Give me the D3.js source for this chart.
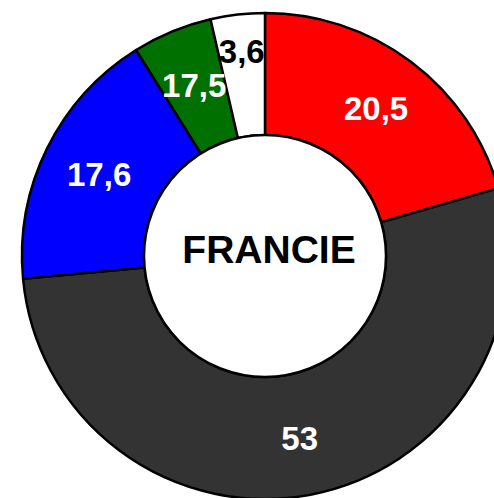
<!DOCTYPE html>
<html>
<head>
<meta charset="utf-8">
<script src="https://cdn.jsdelivr.net/npm/d3@7"></script>
<style>
  body { margin: 0; background: #fff; }
  svg { display: block; }
  text { font-family: "Liberation Sans", Arial, sans-serif; font-weight: bold; }
</style>
</head>
<body>
<svg id="chart" width="494" height="498"></svg>
<script>
// données (part de chaque secteur, sens horaire depuis le haut)
var categories = ["rouge", "gris", "bleu", "vert", "blanc"];
var valeurs = [20.5, 53, 17.6, 5.3, 3.6];
var etiquettes = ["20,5", "53", "17,6", "17,5", "3,6"];
var couleurs = ["#ff0000", "#333333", "#0000ff", "#007000", "#ffffff"];
var couleursTexte = ["#fff", "#fff", "#fff", "#fff", "#000"];
var titre = "FRANCIE";

var svg = d3.select("#chart"),
    cx = 265, cy = 256,
    rExt = 243, rInt = 121;

var g = svg.append("g").attr("transform", "translate(" + cx + "," + cy + ")");

var pie = d3.pie().sort(null).value(function(d){ return d; });
var arcs = pie(valeurs);

var arc = d3.arc().innerRadius(rInt).outerRadius(rExt);

// secteurs
g.selectAll("path.secteur")
    .data(arcs)
  .enter().append("path")
    .attr("class", "secteur")
    .attr("d", arc)
    .attr("fill", function(d, i){ return couleurs[i]; })
    .attr("stroke", "#000")
    .attr("stroke-width", 2.5)
    .attr("stroke-linejoin", "round");

// cercle central
g.append("circle")
    .attr("r", rInt)
    .attr("fill", "#fff")
    .attr("stroke", "#000")
    .attr("stroke-width", 2.5);

// étiquettes : rayon un peu plus grand pour le petit secteur blanc
function rayonEtiquette(i){ return i == 4 ? 206 : 185; }

g.selectAll("text.valeur")
    .data(arcs)
  .enter().append("text")
    .attr("class", "valeur")
    .attr("x", function(d, i){
        var a = (d.startAngle + d.endAngle) / 2;
        return Math.sin(a) * rayonEtiquette(i);
    })
    .attr("y", function(d, i){
        var a = (d.startAngle + d.endAngle) / 2;
        return -Math.cos(a) * rayonEtiquette(i);
    })
    .attr("dy", "0.36em")
    .attr("text-anchor", "middle")
    .attr("font-size", 33)
    .attr("fill", function(d, i){ return couleursTexte[i]; })
    .text(function(d, i){ return etiquettes[i]; });

// titre au centre
g.append("text")
    .attr("x", 4)
    .attr("y", 7)
    .attr("text-anchor", "middle")
    .attr("font-size", 39)
    .attr("fill", "#000")
    .text(titre);
</script>
</body>
</html>
